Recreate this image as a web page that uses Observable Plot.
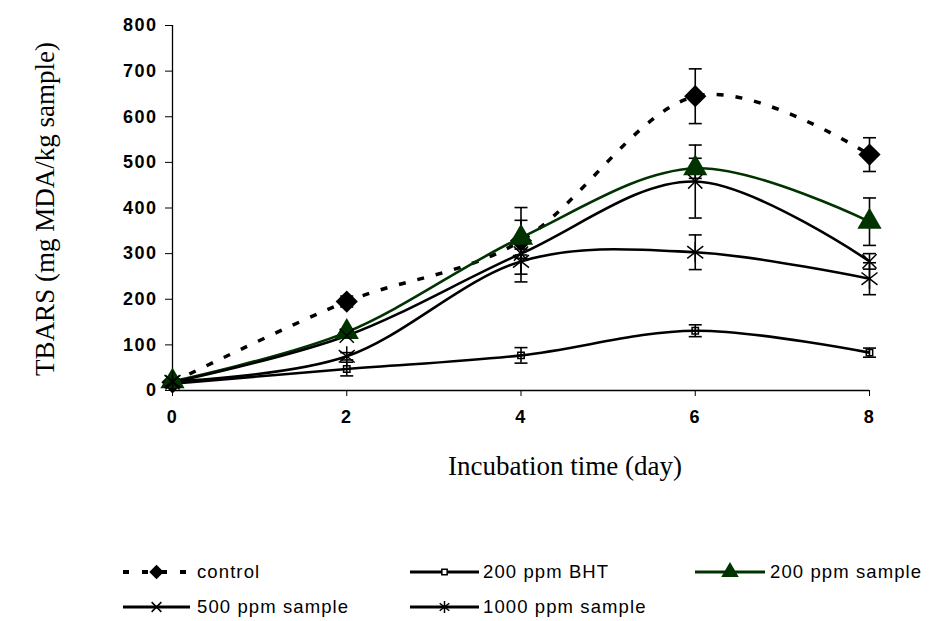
<!DOCTYPE html>
<html>
<head>
<meta charset="utf-8">
<script src="https://cdn.jsdelivr.net/npm/d3@7"></script>
<script src="https://cdn.jsdelivr.net/npm/@observablehq/plot@0.6"></script>
<style>
  html, body { margin: 0; padding: 0; background: #fff; }
  #chart { position: relative; width: 929px; height: 621px; }
  #chart svg { display: block; }
  g[aria-label="y-axis tick label"] text,
  g[aria-label="x-axis tick label"] text {
    font-family: "Liberation Sans", Arial, sans-serif;
    font-weight: bold; font-size: 18px; letter-spacing: 1.5px; fill: #000;
  }
</style>
</head>
<body>
<div id="chart"></div>
<script>
// ---- data ----
const days = [0, 2, 4, 6, 8];
const seriesNames = ["control", "200 ppm BHT", "200 ppm sample", "500 ppm sample", "1000 ppm sample"];
const control = [18, 195, 328, 645, 517];
const controlErr = [3, 12, 73, 60, 37];
const bht = [15, 47, 77, 131, 83];
const bhtErr = [3, 15, 17, 13, 10];
const s200 = [20, 128, 335, 487, 370];
const s200Err = [3, 6, 38, 22, 52];
const s500 = [18, 120, 300, 458, 283];
const s500Err = [3, 5, 10, 80, 17];
const s1000 = [20, 75, 283, 303, 245];
const s1000Err = [3, 8, 45, 38, 35];
const xTicks = [0, 2, 4, 6, 8];
const yTicks = [0, 100, 200, 300, 400, 500, 600, 700, 800];
const xLabel = "Incubation time (day)";
const yLabel = "TBARS (mg MDA/kg sample)";

const GREEN = "#003300";

// custom symbols
const asteriskSym = {
  draw(ctx, size) {
    const r = Math.sqrt(size / Math.PI);
    ctx.moveTo(0, -r); ctx.lineTo(0, r);
    ctx.moveTo(-0.8 * r, -0.62 * r); ctx.lineTo(0.8 * r, 0.62 * r);
    ctx.moveTo(-0.8 * r, 0.62 * r); ctx.lineTo(0.8 * r, -0.62 * r);
  }
};
const capSym = {
  draw(ctx, size) {
    const r = Math.sqrt(size / Math.PI);
    ctx.moveTo(-r, 0); ctx.lineTo(r, 0);
  }
};

const styles = {
  "control": {stroke: "#000", dash: "7,12", width: 3.5, symbol: "diamond2", fill: "#000", sstroke: "none", r: 10, lr: 6.5},
  "200 ppm BHT": {stroke: "#000", dash: null, width: 2.6, symbol: "square", fill: "none", sstroke: "#000", r: 3.6, lr: 3},
  "200 ppm sample": {stroke: GREEN, dash: null, width: 2.6, symbol: "triangle", fill: GREEN, sstroke: "none", r: 9, lr: 6.5},
  "500 ppm sample": {stroke: "#000", dash: null, width: 2.6, symbol: "times", fill: "none", sstroke: "#000", r: 6.5, lr: 4.5},
  "1000 ppm sample": {stroke: "#000", dash: null, width: 2.6, symbol: asteriskSym, fill: "none", sstroke: "#000", r: 10, lr: 6}
};

const vals = [control, bht, s200, s500, s1000];
const errs = [controlErr, bhtErr, s200Err, s500Err, s1000Err];
const rows = [];
seriesNames.forEach((name, si) => {
  days.forEach((d, i) => rows.push({series: name, day: d, value: vals[si][i], err: errs[si][i]}));
});

const lineMarks = seriesNames.map(name => {
  const s = styles[name];
  return Plot.line(rows.filter(r => r.series === name), {
    x: "day", y: "value", curve: "cardinal", stroke: s.stroke, strokeWidth: s.width,
    strokeDasharray: s.dash || undefined, strokeLinecap: "butt"
  });
});
const errMarks = [
  Plot.ruleX(rows, {x: "day", y1: d => d.value - d.err, y2: d => d.value + d.err, stroke: "#000", strokeWidth: 1.6}),
  Plot.dot(rows, {x: "day", y: d => d.value + d.err, symbol: capSym, r: 6.5, stroke: "#000", strokeWidth: 1.6}),
  Plot.dot(rows, {x: "day", y: d => d.value - d.err, symbol: capSym, r: 6.5, stroke: "#000", strokeWidth: 1.6})
];
const dotMarks = seriesNames.map(name => {
  const s = styles[name];
  return Plot.dot(rows.filter(r => r.series === name), {
    x: "day", y: "value", symbol: s.symbol, r: s.r, fill: s.fill,
    stroke: s.sstroke === "none" ? undefined : s.sstroke, strokeWidth: 1.5
  });
});

const plot = Plot.plot({
  width: 929, height: 500,
  marginLeft: 172, marginRight: 60, marginTop: 25, marginBottom: 110,
  x: {domain: [0, 8]},
  y: {domain: [0, 800]},
  style: {fontFamily: "Liberation Sans, Arial, sans-serif", color: "#000", background: "#fff", overflow: "visible"},
  marks: [
    Plot.axisY({ticks: yTicks, tickSize: 7, tickPadding: 8, label: null, stroke: "#000"}),
    Plot.axisX({ticks: xTicks, tickSize: 6, tickPadding: 14, label: null, stroke: "#000"}),
    Plot.ruleY([0], {stroke: "#000", strokeWidth: 1.3}),
    Plot.ruleX([0], {stroke: "#000", strokeWidth: 1.3}),
    ...lineMarks,
    ...errMarks,
    ...dotMarks,
    Plot.text([xLabel], {frameAnchor: "bottom", text: d => d, dx: 44, dy: 84, fontSize: 27,
      textAnchor: "middle", fontFamily: "Liberation Serif, Times New Roman, serif", fill: "#000"}),
    Plot.text([yLabel], {frameAnchor: "left", text: d => d, rotate: -90, dx: -127, dy: 1, fontSize: 27,
      textAnchor: "middle", fontFamily: "Liberation Serif, Times New Roman, serif", fill: "#000"})
  ]
});
document.getElementById("chart").appendChild(plot);

// ---- legend ----
const legendItems = [
  {name: "control", x0: 123, x1: 190, cy: 72, tx: 197},
  {name: "200 ppm BHT", x0: 410, x1: 479, cy: 72, tx: 483},
  {name: "200 ppm sample", x0: 695, x1: 765, cy: 72, tx: 770},
  {name: "500 ppm sample", x0: 123, x1: 190, cy: 107, tx: 197},
  {name: "1000 ppm sample", x0: 410, x1: 479, cy: 107, tx: 483}
];
const leg = d3.select("#chart").append("svg").attr("width", 929).attr("height", 121);
const symMap = {diamond2: d3.symbolDiamond2, square: d3.symbolSquare, triangle: d3.symbolTriangle, times: d3.symbolTimes};
legendItems.forEach(it => {
  const s = styles[it.name];
  leg.append("line").attr("x1", it.x0).attr("x2", it.x1).attr("y1", it.cy).attr("y2", it.cy)
    .attr("stroke", s.stroke).attr("stroke-width", s.dash ? 4 : 3)
    .attr("stroke-dasharray", s.dash ? "6,13" : null);
  const cx = (it.x0 + it.x1) / 2;
  const type = typeof s.symbol === "string" ? symMap[s.symbol] : s.symbol;
  leg.append("path").attr("transform", `translate(${cx},${it.cy})`)
    .attr("d", d3.symbol(type, Math.PI * s.lr * s.lr)())
    .attr("fill", s.fill === "none" ? (s.symbol === "square" ? "#fff" : "none") : s.fill)
    .attr("stroke", s.sstroke === "none" ? "none" : s.sstroke).attr("stroke-width", 1.5);
  leg.append("text").attr("x", it.tx).attr("y", it.cy).attr("dy", "0.35em")
    .attr("font-family", "Liberation Sans, Arial, sans-serif").attr("font-size", 18.5)
    .attr("letter-spacing", "1.1px").attr("fill", "#000").text(it.name);
});
</script>
</body>
</html>
